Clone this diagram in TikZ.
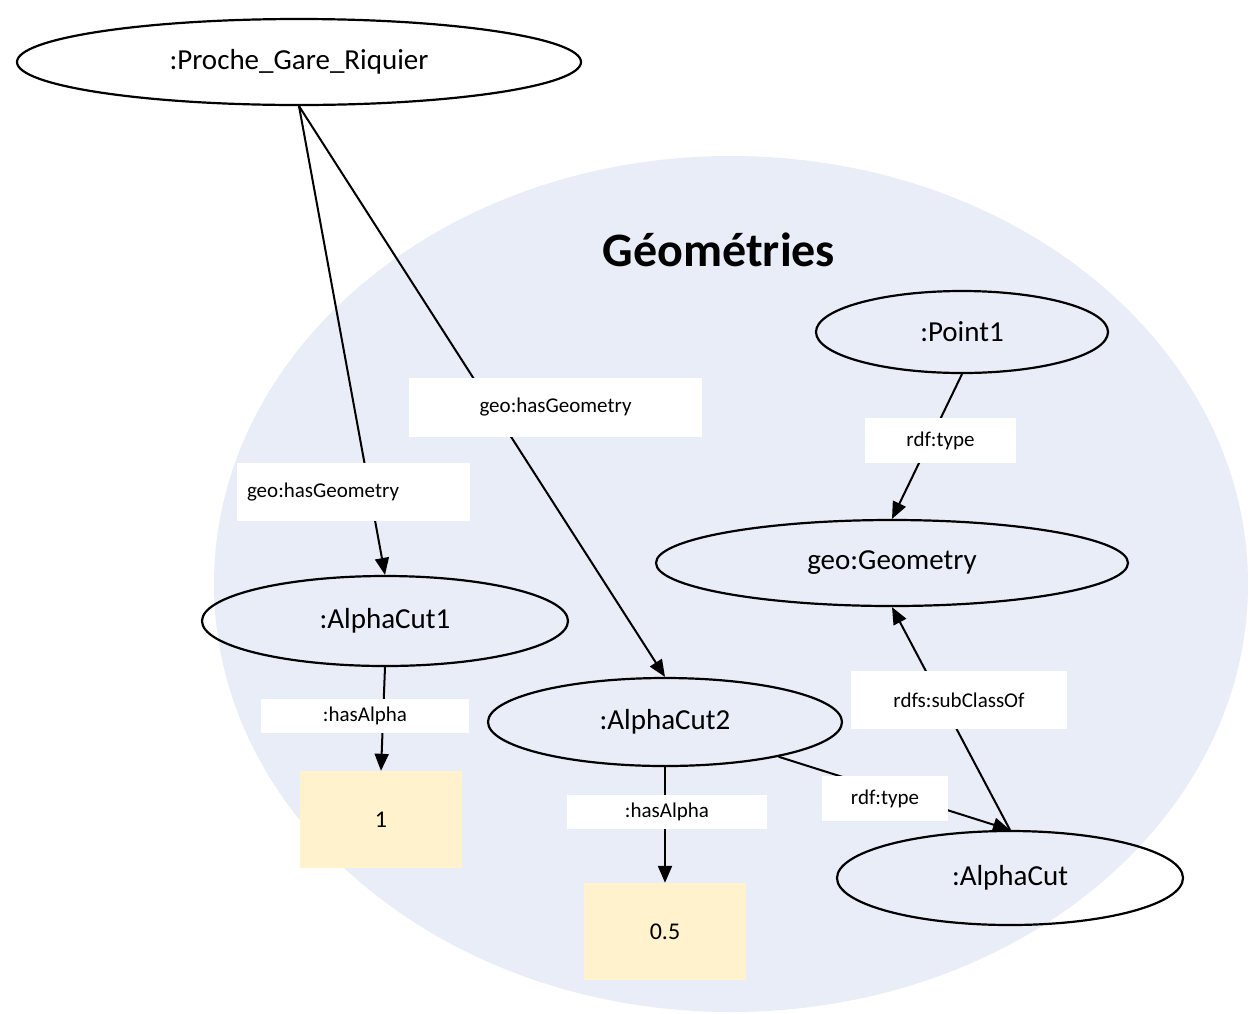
\documentclass[tikz,border=0pt]{standalone}
\usepackage{fontspec}
\setmainfont{Carlito}
\usetikzlibrary{shapes.geometric,arrows.meta}
\definecolor{bgblue}{HTML}{E9EDF7}
\definecolor{litval}{HTML}{FFF2CC}
\begin{document}
\begin{tikzpicture}[x=1pt,y=-1pt,
  res/.style={ellipse,draw=black,line width=2.2pt,inner sep=0pt,font=\fontsize{29}{34}\selectfont},
  lit/.style={rectangle,fill=litval,minimum width=162pt,minimum height=97pt,inner sep=0pt,font=\fontsize{24}{28}\selectfont},
  lbl/.style={rectangle,fill=white,inner sep=0pt,font=\fontsize{21}{25}\selectfont},
  conn/.style={line width=2pt,-{Triangle[length=17pt,width=14pt]}},
]
\useasboundingbox (0,0) rectangle (1255,1013);
\fill[white] (0,0) rectangle (1255,1013);
\fill[bgblue] (731,584) ellipse [x radius=517pt, y radius=428pt];

\node[font=\fontsize{48}{56}\selectfont\bfseries] (title) at (719,250) {Géométries};

\node[res, minimum width=564pt, minimum height=86pt] (proche) at (299,62) {:Proche\_Gare\_Riquier};
\node[res, minimum width=292pt, minimum height=82pt] (pt1) at (962,332) {:Point1};
\node[res, minimum width=472pt, minimum height=86pt] (geo) at (892,563) {geo:Geometry};
\node[res, minimum width=366pt, minimum height=90pt] (ac1) at (385,621) {:AlphaCut1};
\node[res, minimum width=354pt, minimum height=88pt] (ac2) at (665,722) {:AlphaCut2};
\node[res, minimum width=346pt, minimum height=94pt] (alphacut) at (1010,878) {:AlphaCut};

\node[lit] (lit1) at (381,819.5) {1};
\node[lit] (lit05) at (665,931.5) {0.5};

\draw[conn] (proche.south) -- (ac1.north);
\draw[conn] (proche.south) -- (ac2.north);
\draw[conn] (pt1.south) -- (geo.north);
\draw[conn] (alphacut.north) -- (geo.south);
\draw[conn] (ac2.-17) -- (alphacut.north);
\draw[conn] (ac1.south) -- (lit1.north);
\draw[conn] (ac2.south) -- (lit05.north);

\node[lbl, minimum width=233pt, minimum height=58pt, text width=213pt, align=left] (l1) at (353.5,492) {geo:hasGeometry};
\node[lbl, minimum width=293pt, minimum height=59pt] (l2) at (555.5,407.5) {geo:hasGeometry};
\node[lbl, minimum width=151pt, minimum height=45pt] (l3) at (940.5,440.5) {rdf:type};
\node[lbl, minimum width=216pt, minimum height=58pt] (l4) at (959,700) {rdfs:subClassOf};
\node[lbl, minimum width=126pt, minimum height=45pt] (l5) at (885,798.5) {rdf:type};
\node[lbl, minimum width=208pt, minimum height=34pt] (l6) at (365,716) {:hasAlpha};
\node[lbl, minimum width=200pt, minimum height=34pt] (l7) at (667,812) {:hasAlpha};
\end{tikzpicture}
\end{document}
